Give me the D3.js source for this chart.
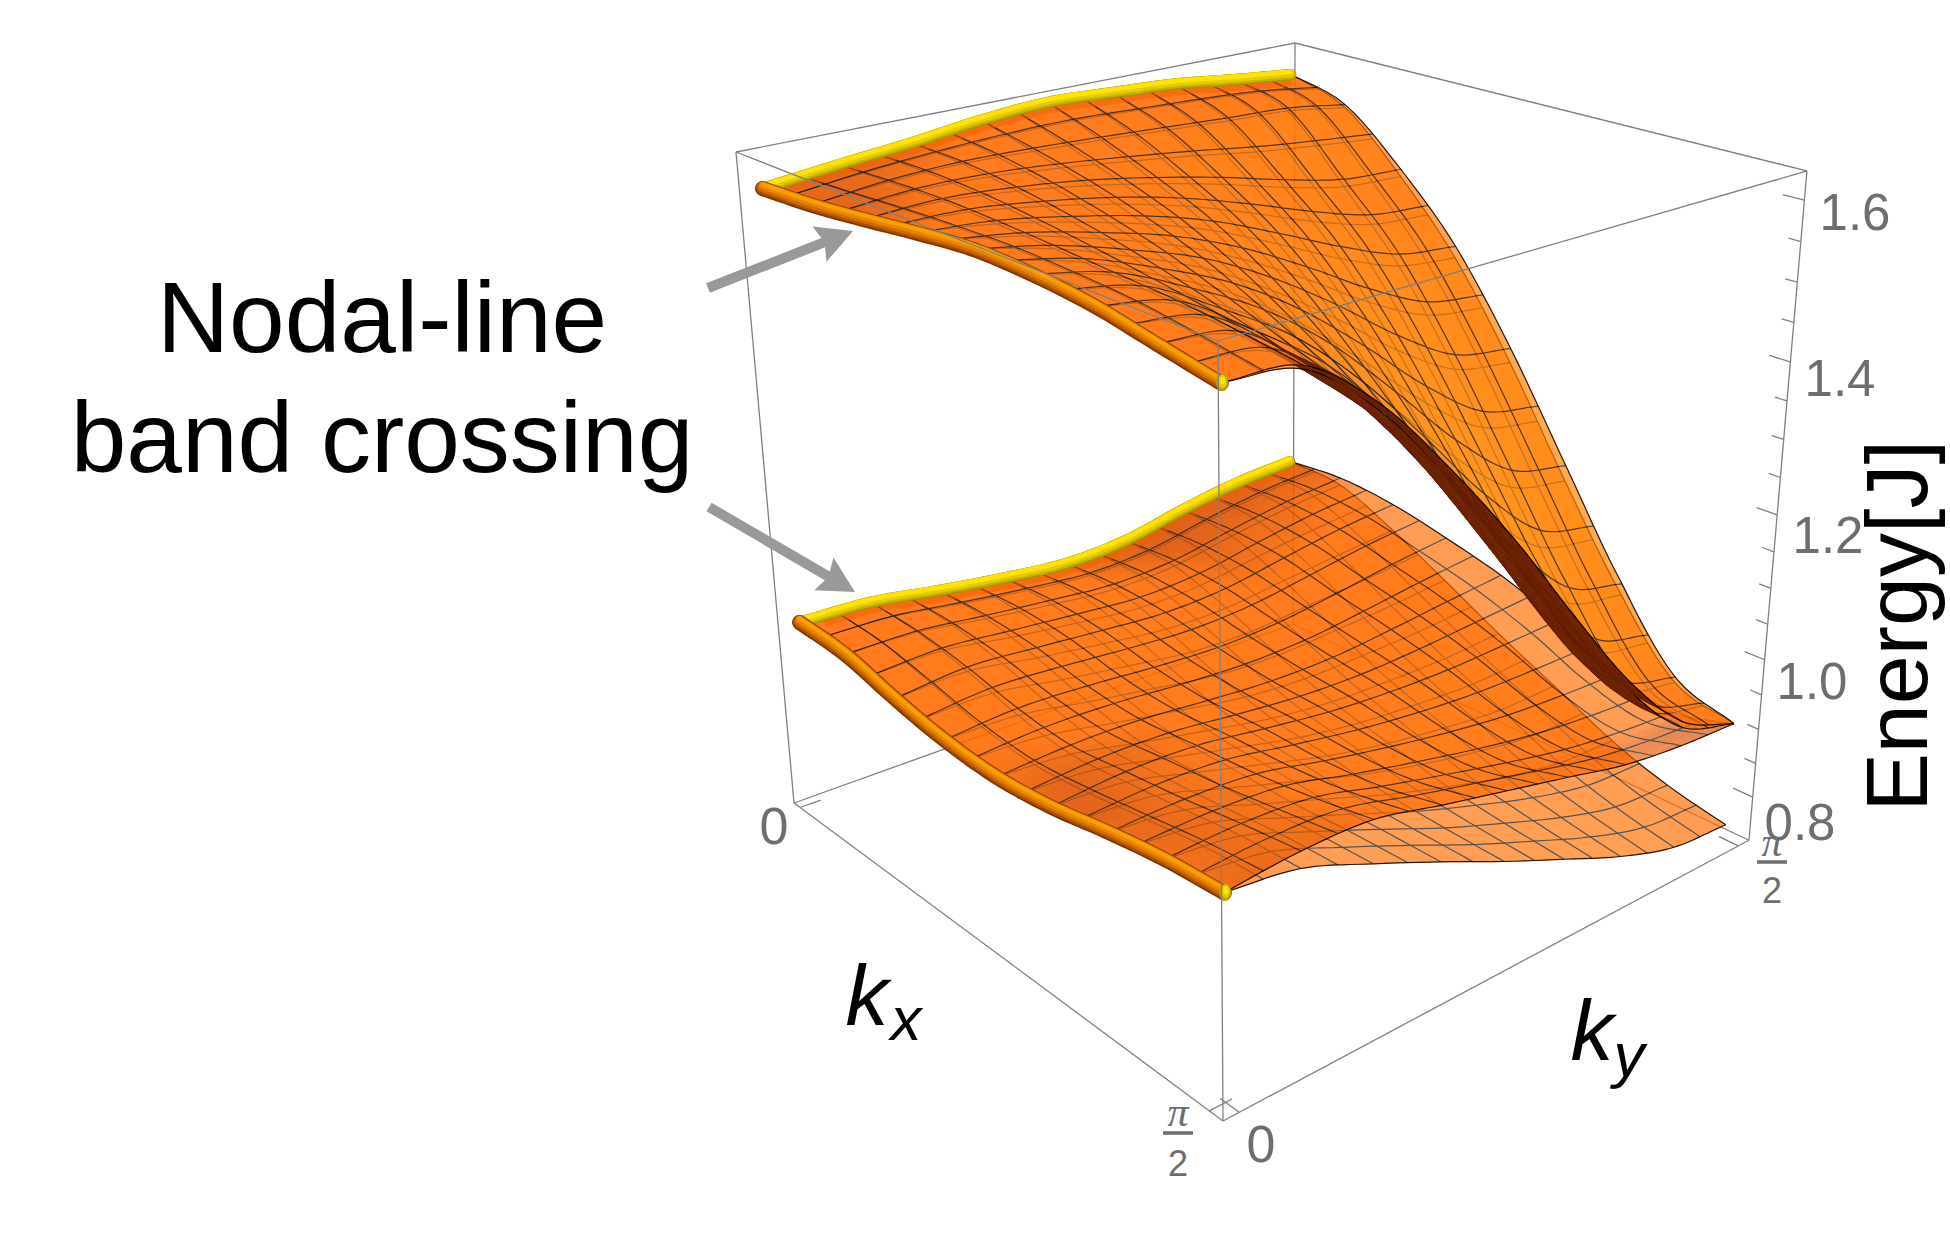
<!DOCTYPE html>
<html><head><meta charset="utf-8">
<style>html,body{margin:0;padding:0;background:#fff}svg{display:block}text{font-family:"Liberation Sans",Arial,sans-serif}</style>
<script src="https://cdn.jsdelivr.net/npm/d3@7"></script>
</head><body><svg id="c" width="1950" height="1242"></svg>
<script>
// ---- data: band energies, rows = ky, columns = kx, both 0..pi/2 ----
const energyTicks=[0.8,1.0,1.2,1.4,1.6];
const energyMinorTicks=[0.85,0.9,0.95,1.05,1.1,1.15,1.25,1.3,1.35,1.45,1.5,1.55];
const kTickLabels=["0","π/2"];
const bandTop=[
[1.590,1.594,1.602,1.611,1.618,1.616,1.608,1.594,1.580],
[1.600,1.604,1.606,1.604,1.600,1.595,1.590,1.582,1.572],
[1.609,1.608,1.600,1.588,1.573,1.554,1.532,1.514,1.503],
[1.620,1.606,1.589,1.568,1.541,1.505,1.467,1.436,1.400],
[1.626,1.602,1.573,1.541,1.495,1.438,1.375,1.325,1.284],
[1.622,1.597,1.554,1.505,1.438,1.353,1.264,1.195,1.156],
[1.617,1.592,1.532,1.467,1.375,1.264,1.151,1.064,1.036],
[1.607,1.588,1.514,1.436,1.325,1.195,1.064,0.966,0.946],
[1.598,1.576,1.509,1.426,1.310,1.174,1.038,0.937,0.907]];
const bandThird=[
[1.590,1.594,1.602,1.611,1.618,1.616,1.608,1.594,1.580],
[1.600,1.602,1.603,1.600,1.596,1.591,1.586,1.578,1.568],
[1.609,1.605,1.595,1.581,1.565,1.545,1.522,1.505,1.495],
[1.620,1.602,1.582,1.558,1.529,1.491,1.451,1.421,1.388],
[1.626,1.598,1.565,1.529,1.479,1.420,1.355,1.307,1.270],
[1.622,1.593,1.545,1.491,1.420,1.331,1.240,1.175,1.142],
[1.617,1.588,1.522,1.451,1.355,1.240,1.126,1.044,1.024],
[1.607,1.584,1.504,1.420,1.305,1.171,1.042,0.952,0.938],
[1.598,1.572,1.499,1.410,1.290,1.152,1.022,0.929,0.907]];
const bandSecond=[
[1.007,1.002,0.983,0.969,0.964,0.971,0.986,0.997,1.002],
[1.004,1.002,0.992,0.976,0.969,0.978,0.988,1.000,1.010],
[0.990,0.992,0.986,0.972,0.967,0.975,0.982,0.993,1.008],
[0.978,0.983,0.978,0.964,0.958,0.961,0.961,0.968,0.986],
[0.970,0.976,0.972,0.959,0.951,0.948,0.942,0.945,0.965],
[0.976,0.982,0.977,0.963,0.951,0.941,0.926,0.923,0.944],
[0.996,1.000,0.993,0.975,0.959,0.939,0.914,0.904,0.923],
[1.012,1.016,1.008,0.989,0.969,0.942,0.908,0.892,0.912],
[1.020,1.026,1.018,1.000,0.978,0.946,0.905,0.885,0.907]];
const bandLowest=[
[1.007,1.002,0.983,0.969,0.964,0.971,0.986,0.997,1.002],
[1.004,1.000,0.986,0.966,0.956,0.964,0.974,0.984,0.988],
[0.990,0.987,0.971,0.949,0.935,0.938,0.941,0.948,0.951],
[0.978,0.976,0.958,0.933,0.915,0.911,0.908,0.910,0.911],
[0.970,0.968,0.947,0.918,0.896,0.885,0.875,0.871,0.869],
[0.976,0.973,0.947,0.914,0.885,0.866,0.847,0.837,0.830],
[0.996,0.990,0.958,0.919,0.882,0.853,0.823,0.805,0.792],
[1.012,1.005,0.968,0.925,0.882,0.844,0.806,0.781,0.764],
[1.020,1.015,0.978,0.934,0.888,0.846,0.803,0.775,0.757]];

// ---- view: box corners on the page and perspective weights ----
const topFace=[[736,152],[1218,341],[1295,43]];     // (kx0,ky0) (kx1,ky0) (kx0,ky1)
const floorFace=[[794,803],[1223,1121],[1293,624]];
const weightKx=0.784, weightKy=1.19, heightPerspective=1.13;
const pad=0.025, perData=6, N=8*perData, meshStep=perData/2;

const svg=d3.select("#c");
const kxScale=d3.scaleLinear().domain([0,2,4,6,8]).range([.018,.272,.515,.756,1-pad]);
const kyScale=d3.scaleLinear().domain([0,8]).range([pad,1-pad]);
const eScale=d3.scaleLinear().domain([0.735,1.635]).range([0,1]);

function face(c,u,v){
  const h=1+(weightKx-1)*u+(weightKy-1)*v;
  return [0,1].map(k=>(c[0][k]+u*(weightKx*c[1][k]-c[0][k])+v*(weightKy*c[2][k]-c[0][k]))/h);
}
function project(u,v,w){
  const T=face(topFace,u,v),B=face(floorFace,u,v);
  const t=w/(w+(1-w)*heightPerspective);
  return [B[0]+(T[0]-B[0])*t,B[1]+(T[1]-B[1])*t];
}
function cr(p0,p1,p2,p3,t){
  return .5*(2*p1+(p2-p0)*t+(2*p0-5*p1+4*p2-p3)*t*t+(3*p1-p0-3*p2+p3)*t*t*t);
}
function at(g,j,i){ // read with linear continuation past the border
  const n=g.length-1;
  const ci=Math.max(0,Math.min(n,i)),cj=Math.max(0,Math.min(n,j));
  let val=g[cj][ci];
  if(i<0)val+=g[cj][0]-g[cj][1]; if(i>n)val+=g[cj][n]-g[cj][n-1];
  if(j<0)val+=g[0][ci]-g[1][ci]; if(j>n)val+=g[n][ci]-g[n-1][ci];
  return val;
}
function sample(g,y,x){
  const n=g.length-1;
  const i=Math.min(n-1,Math.floor(x)),j=Math.min(n-1,Math.floor(y)),tx=x-i,ty=y-j;
  const col=[-1,0,1,2].map(d=>cr(at(g,j+d,i-1),at(g,j+d,i),at(g,j+d,i+1),at(g,j+d,i+2),tx));
  return cr(col[0],col[1],col[2],col[3],ty);
}
const shade=d3.scaleLinear().domain([0,.5,1]).range(["#dc5000","#ff6a00","#ff8d00"]).clamp(true);
const line=d3.line();
const smooth=d3.line().curve(d3.curveCatmullRom);
const floorSign=d3.polygonArea([project(0,0,0),project(1,0,0),project(1,1,0),project(0,1,0)])<0;

function buildSheet(g){
  const E=[],P=[];
  for(let j=0;j<=N;j++){E.push([]);P.push([]);
    for(let i=0;i<=N;i++){
      const x=i/perData,y=j/perData,e=sample(g,y,x);
      E[j].push(e);P[j].push(project(kxScale(x),kyScale(y),eScale(e)));
    }}
  return {E,P};
}
function drawSheet(parent,g,opacity){
  const {E,P}=buildSheet(g);
  const quads=[];
  for(let j=0;j<N;j++)for(let i=0;i<N;i++){
    const q=[P[j][i],P[j][i+1],P[j+1][i+1],P[j+1][i]];
    const area=d3.polygonArea(q);
    const du=(E[j][i+1]-E[j][i]+E[j+1][i+1]-E[j+1][i])/2*N/.95;
    const dv=(E[j+1][i]-E[j][i]+E[j+1][i+1]-E[j][i+1])/2*N/.95;
    const s=-(du+dv);
    const lit=s>=0?.5+.25*s:.5+3.0*s;
    const depth=(i-j)/N+.25*eScale((E[j][i]+E[j+1][i+1])/2);
    quads.push({q,area,lit,depth,front:(area<0)===floorSign});
  }
  quads.sort((a,b)=>a.depth-b.depth);
  const paint=(sel,arr,color)=>sel.selectAll(null).data(arr).join("path")
    .attr("d",d=>line(d.q)+"Z").attr("fill",color).attr("stroke",color).attr("stroke-width",.8);
  const sheet=parent.append("g").attr("opacity",opacity);
  paint(sheet,quads.filter(d=>d.front),d=>shade(d.lit));
  const meshGroup=sheet.append("g").attr("fill","none").attr("stroke","#000").attr("stroke-width",1.2);
  for(let k=meshStep;k<N;k+=meshStep){
    meshGroup.append("path").attr("d",smooth(P[k]));
    meshGroup.append("path").attr("d",smooth(P.map(r=>r[k])));
  }
  // underside seen past the fold: opaque dark red
  const under=parent.append("g").attr("opacity",.96);
  paint(under,quads.filter(d=>!d.front),"#6a2000");
  const edge=parent.append("g").attr("fill","none").attr("stroke","#000").attr("stroke-width",1.2).attr("opacity",.85);
  edge.append("path").attr("d",smooth(P[N]));
  edge.append("path").attr("d",smooth(P.map(r=>r[N])));
  return {P};
}
function boxLine(sel,a,b){sel.append("path").attr("d",line([project(...a),project(...b)]));}
function tubes(parent,P){
  const ridge=P.map(r=>r[0]), nodal=P[0];
  // strip of deeper orange beside the yellow tube
  parent.append("path").attr("d",smooth(ridge.slice(2))).attr("fill","none").attr("stroke","#ee5f00").attr("stroke-opacity",.5).attr("stroke-width",8).attr("transform","translate(1,8)");
  const layers=(pts,list)=>list.forEach(([c,w,dy])=>parent.append("path").attr("d",smooth(pts)).attr("fill","none").attr("stroke",c).attr("stroke-width",w).attr("stroke-linecap","round").attr("transform",`translate(0,${dy})`));
  layers(ridge,[["#a89200",11.5,.6],["#c8b200",10,-.1],["#e4cc00",7.6,-1],["#ffe400",4.6,-2.4]]);
  layers(nodal,[["#7c3400",15,.6],["#a85000",13,-.1],["#cc6c00",10.4,-1],["#e88400",7.4,-2.2],["#f8a000",4,-3.6]]);
  const e=nodal[nodal.length-1];
  parent.append("ellipse").attr("cx",e[0]+1).attr("cy",e[1]).attr("rx",6).attr("ry",8.6).attr("fill","#b8a400");
  parent.append("ellipse").attr("cx",e[0]+1.2).attr("cy",e[1]-1.2).attr("rx",4.4).attr("ry",6.6).attr("fill","#e4cc00");
  parent.append("ellipse").attr("cx",e[0]+1.5).attr("cy",e[1]-2).attr("rx",2.4).attr("ry",3.8).attr("fill","#ffe600");
}

// ---- box, back part ----
const boxStyle=g=>g.attr("fill","none").attr("stroke","#808080").attr("stroke-width",1.3);
const back=svg.append("g").call(boxStyle);
boxLine(back,[0,0,1],[0,1,1]);boxLine(back,[0,1,1],[1,1,1]);
boxLine(back,[0,1,0],[0,1,1]);boxLine(back,[0,0,0],[0,1,0]);boxLine(back,[0,1,0],[1,1,0]);
boxLine(back,[0,0,0],[0,0,1]);boxLine(back,[1,1,0],[1,1,1]);

// ---- axes ----
const ticks=svg.append("g").call(boxStyle);
const eAxis=e=>eScale(e);
energyTicks.forEach(e=>boxLine(ticks,[1,1,eAxis(e)],[0.965,1,eAxis(e)]));
energyMinorTicks.forEach(e=>boxLine(ticks,[1,1,eAxis(e)],[0.98,1,eAxis(e)]));
[kxScale(0),kxScale(8)].forEach(u=>boxLine(ticks,[u,0,0],[u,0.035,0]));
[kyScale(0),kyScale(8)].forEach(v=>boxLine(ticks,[1,v,0],[0.965,v,0]));

// ---- surfaces ----
const lower=svg.append("g");
drawSheet(lower,bandLowest,.67);
const l2=drawSheet(lower,bandSecond,.67);
tubes(lower,l2.P);
const upper=svg.append("g");
drawSheet(upper,bandThird,.67);
const u2=drawSheet(upper,bandTop,.67);
tubes(upper,u2.P);

// ---- box, front part ----
const front=svg.append("g").call(boxStyle);
boxLine(front,[0,0,1],[1,0,1]);boxLine(front,[1,0,1],[1,1,1]);
boxLine(front,[0,0,0],[1,0,0]);boxLine(front,[1,0,0],[1,1,0]);boxLine(front,[1,0,0],[1,0,1]);

// ---- text ----
const gray="#6e6e6e";
const label=(x,y,t,size,o={})=>svg.append("text").attr("x",x).attr("y",y).attr("text-anchor",o.anchor||"middle").attr("font-size",size)
  .attr("fill",o.fill||"#000").attr("font-style",o.italic?"italic":null).style("font-family",o.family||null).text(t);
[[1.6,1855,230],[1.4,1840,396],[1.2,1828,553],[1.0,1812,699],[0.8,1800,840]].forEach(([v,x,y])=>label(x,y,d3.format(".1f")(v),51,{fill:gray}));
label(774,844,kTickLabels[0],52,{fill:gray});
label(1261,1162,kTickLabels[0],52,{fill:gray});
function piLabel(x,yPi,yBar,y2){
  label(x,yPi,"π",42,{fill:gray,family:"'Liberation Serif',serif",italic:true});
  svg.append("line").attr("x1",x-15).attr("x2",x+15).attr("y1",yBar).attr("y2",yBar).attr("stroke",gray).attr("stroke-width",3.5);
  label(x,y2,"2",36,{fill:gray});
}
piLabel(1178,1126,1133,1176);
piLabel(1772,856,862,903);
label(382,352,"Nodal-line",100);
label(382,472,"band crossing",100);
svg.append("text").attr("transform","translate(1927,626) rotate(-90)").attr("text-anchor","middle").attr("font-size",88).text("Energy[J]");
label(867,1025,"k",86,{italic:true});label(906,1040,"x",62,{italic:true});
label(1592,1060,"k",86,{italic:true});label(1629,1076,"y",62,{italic:true});

// ---- annotation arrows ----
const arrows=[[[708,288],[853,231]],[[709,507],[855,592]]];
arrows.forEach(([a,b])=>{
  const dx=b[0]-a[0],dy=b[1]-a[1],L=Math.hypot(dx,dy),ux=dx/L,uy=dy/L,nx=-uy,ny=ux;
  const hl=36,hw=19,sw=5;
  const at2=(d,o)=>[a[0]+ux*d+nx*o,a[1]+uy*d+ny*o];
  svg.append("path").attr("d",line([at2(0,-sw),at2(L-hl+4,-sw),at2(L-hl,-hw),at2(L,0),at2(L-hl,hw),at2(L-hl+4,sw),at2(0,sw)])+"Z").attr("fill","#999");
});
</script></body></html>
